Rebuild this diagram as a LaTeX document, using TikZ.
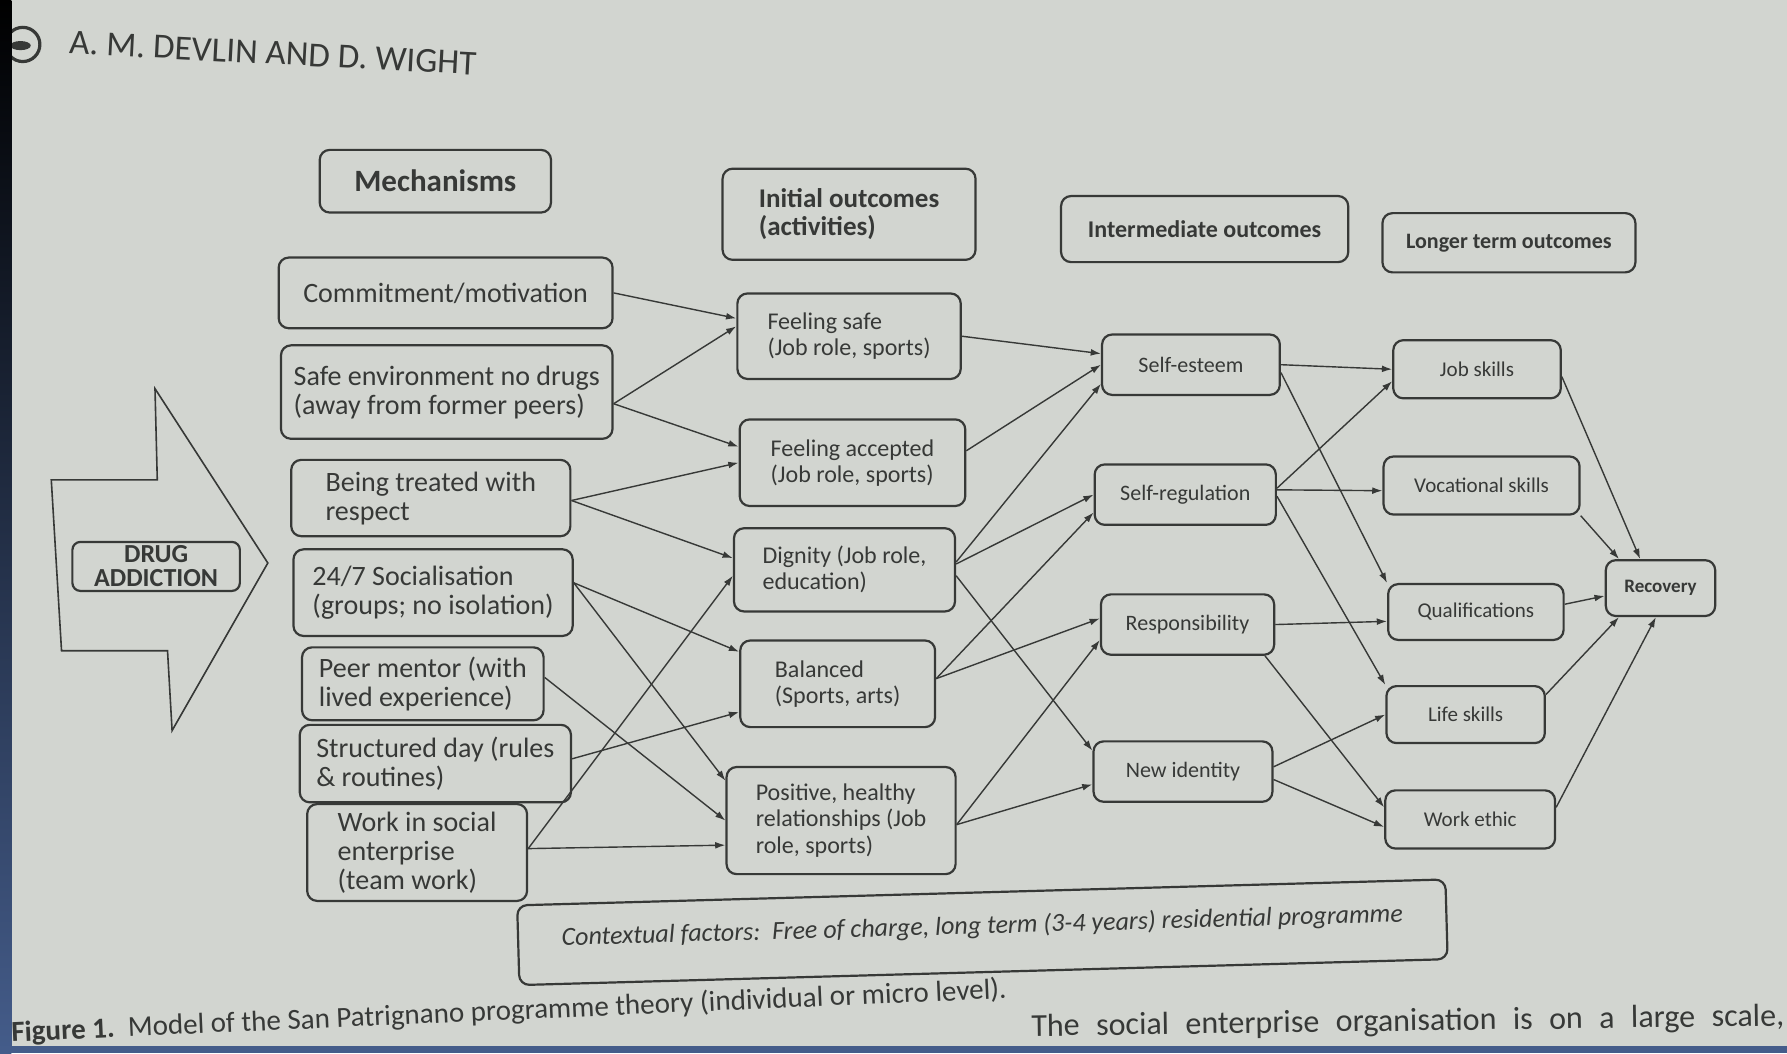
\documentclass[tikz,border=0pt]{standalone}
\usepackage{fontspec}
\setmainfont{Carlito}
\usetikzlibrary{arrows.meta}
\definecolor{pagegrey}{RGB}{210,213,208}
\definecolor{inkgrey}{RGB}{55,57,55}
\definecolor{bandblue}{RGB}{68,92,138}

\begin{document}
\begin{tikzpicture}[x=0.02cm,y=-0.02cm,
  rbox/.style={draw=inkgrey,line width=1.1pt,rounded corners=5pt,align=left,inner sep=2pt,text=inkgrey},
  mechbox/.style={rbox,font=\fontsize{14}{14.5}\selectfont},
  initbox/.style={rbox,font=\fontsize{12}{13}\selectfont},
  interbox/.style={rbox,font=\fontsize{11}{12}\selectfont,minimum height=1.06cm},
  longbox/.style={rbox,font=\fontsize{10.5}{12}\selectfont,minimum height=1.02cm},
  link/.style={draw=inkgrey,line width=0.7pt,-{Latex[length=1.8mm,width=1.2mm]}}]
  \useasboundingbox (0,0) rectangle (1568,924);
  \fill[pagegrey] (0,0) rectangle (1568,924);

  % running head
  \draw[inkgrey,line width=1.6pt] (20,39) circle [radius=15];
  \fill[inkgrey] (18,40) ellipse [x radius=9,y radius=4];
  \node[anchor=base west,rotate=-3,inner sep=0pt,text=inkgrey,font=\fontsize{17.5}{19}\selectfont] (author) at (60,47) {A. M. DEVLIN AND D. WIGHT};

  % column heads
  \node[rbox,font={\bfseries\fontsize{15.5}{16}\selectfont},minimum width=4.06cm,minimum height=1.10cm] (mech) at (382,159) {Mechanisms};
  \node[rbox,font={\bfseries\fontsize{13.5}{14}\selectfont},minimum width=4.44cm,minimum height=1.60cm] (init) at (745,188) {Initial outcomes\\(activities)};
  \node[rbox,font={\bfseries\fontsize{12}{13}\selectfont},minimum width=5.04cm,minimum height=1.16cm] (inter) at (1057,201) {Intermediate outcomes};
  \node[rbox,font={\bfseries\fontsize{11}{12}\selectfont},minimum width=4.44cm,minimum height=1.04cm] (longer) at (1324,213) {Longer term outcomes};

  % drug addiction arrow
  \draw[inkgrey,line width=0.8pt] (45,421) -- (138,421) -- (136,341) -- (235,494) -- (151,641) -- (147,571) -- (54,571) -- cycle;
  \node[rbox,align=center,inner sep=1pt,rounded corners=4pt,font={\bfseries\fontsize{13}{12}\selectfont},minimum width=2.94cm,minimum height=0.86cm] (drug) at (137,497) {DRUG\\ADDICTION};

  % mechanisms
  \node[mechbox,minimum width=5.86cm,minimum height=1.24cm] (commit) at (391,257) {Commitment/motivation};
  \node[mechbox,minimum width=5.82cm,minimum height=1.64cm] (safeenv) at (392,344) {Safe environment no drugs\\(away from former peers)};
  \node[mechbox,minimum width=4.90cm,minimum height=1.34cm] (respect) at (378,437) {Being treated with\\respect};
  \node[mechbox,minimum width=4.90cm,minimum height=1.52cm] (social) at (380,520) {24/7 Socialisation\\(groups; no isolation)};
  \node[mechbox,minimum width=4.24cm,minimum height=1.28cm] (peer) at (371,600) {Peer mentor (with\\lived experience)};
  \node[mechbox,minimum width=4.76cm,minimum height=1.36cm] (structured) at (382,670) {Structured day (rules\\\& routines)};
  \node[mechbox,minimum width=3.86cm,minimum height=1.70cm] (work) at (366,748) {Work in social\\enterprise\\(team work)};

  % initial outcomes
  \node[initbox,minimum width=3.92cm,minimum height=1.50cm] (safe) at (745,295) {Feeling safe\\(Job role, sports)};
  \node[initbox,minimum width=3.96cm,minimum height=1.52cm] (accepted) at (748,406) {Feeling accepted\\(Job role, sports)};
  \node[initbox,minimum width=3.88cm,minimum height=1.46cm] (dignity) at (741,500) {Dignity (Job role,\\education)};
  \node[initbox,minimum width=3.42cm,minimum height=1.52cm] (balanced) at (735,600) {Balanced\\(Sports, arts)};
  \node[initbox,minimum width=4.02cm,minimum height=1.88cm] (positive) at (738,720) {Positive, healthy\\relationships (Job\\role, sports)};

  % intermediate outcomes
  \node[interbox,minimum width=3.12cm] (esteem) at (1045,320) {Self-esteem};
  \node[interbox,minimum width=3.18cm] (regul) at (1040,434) {Self-regulation};
  \node[interbox,minimum width=3.04cm] (resp) at (1042,548) {Responsibility};
  \node[interbox,minimum width=3.14cm] (ident) at (1038,677) {New identity};

  % longer term outcomes
  \node[longbox,minimum width=2.94cm] (jobsk) at (1296,324) {Job skills};
  \node[longbox,minimum width=3.44cm] (vocsk) at (1300,426) {Vocational skills};
  \node[longbox,minimum width=3.08cm,minimum height=0.98cm] (qualif) at (1295,537) {Qualifications};
  \node[longbox,minimum width=2.78cm,minimum height=1.00cm] (lifesk) at (1286,627) {Life skills};
  \node[longbox,minimum width=2.98cm] (worketh) at (1290,719) {Work ethic};
  \node[rbox,font={\bfseries\fontsize{9.5}{11}\selectfont},minimum width=1.92cm,minimum height=0.98cm] (recov) at (1457,516) {Recovery};

  \draw[link] (commit.east) -- (safe.171);
  \draw[link] (safeenv.-4) -- (safe.175);
  \draw[link] (safeenv.-4) -- (accepted.172);
  \draw[link] (respect.-1) -- (accepted.west);
  \draw[link] (respect.-1) -- (dignity.174);
  \draw[link] (social.4) -- (balanced.162);
  \draw[link] (social.4) -- (positive.161);
  \draw[link] (peer.3) -- (positive.west);
  \draw[link] (structured.2) -- (balanced.196);
  \draw[link] (work.2) -- (dignity.183);
  \draw[link] (work.2) -- (positive.192);

  \draw[link] (safe.east) -- (esteem.173);
  \draw[link] (accepted.6) -- (esteem.west);
  \draw[link] (dignity.4) -- (esteem.192);
  \draw[link] (dignity.3) -- (regul.west);
  \draw[link] (dignity.-3) -- (ident.167);
  \draw[link] (balanced.3) -- (regul.191);
  \draw[link] (balanced.3) -- (resp.176);
  \draw[link] (positive.-2) -- (resp.190);
  \draw[link] (positive.-2) -- (ident.188);

  \draw[link] (esteem.east) -- (jobsk.west);
  \draw[link] (esteem.-5) -- (qualif.north west);
  \draw[link] (regul.4) -- (jobsk.188);
  \draw[link] (regul.3) -- (vocsk.183);
  \draw[link] (regul.-1) -- (lifesk.north west);
  \draw[link] (resp.east) -- (qualif.186);
  \draw[link] (resp.-22) -- (worketh.172);
  \draw[link] (ident.3) -- (lifesk.west);
  \draw[link] (ident.-5) -- (worketh.185);

  \draw[link] (jobsk.-5) -- (recov.125);
  \draw[link] (vocsk.south east) -- (recov.145);
  \draw[link] (qualif.5) -- (recov.188);
  \draw[link] (lifesk.14) -- (recov.215);
  \draw[link] (worketh.8) -- (recov.261);

  % context and caption
  \node[rbox,rotate=1.6,align=center,font={\itshape\fontsize{13}{14}\selectfont},minimum width=16.3cm,minimum height=1.40cm,text depth=8pt] (context) at (862,818) {Contextual factors:\ \ Free of charge, long term (3-4 years) residential programme};
  \node[anchor=base west,rotate=2.5,inner sep=0pt,text=inkgrey,font=\fontsize{14.5}{16}\selectfont] (caption) at (10,914) {\textbf{Figure 1.}\ \ Model of the San Patrignano programme theory (individual or micro level).};
  \node[anchor=base east,rotate=0.8,inner sep=0pt,text=inkgrey,font=\fontsize{16}{18}\selectfont] (bodytext) at (1566,900) {\makebox[376pt][s]{The social enterprise organisation is on a large scale,}};

  \shade[top color=black,bottom color=bandblue] (0,0) rectangle (10,924);
  \fill[bandblue] (0,918) rectangle (1568,924);
\end{tikzpicture}
\end{document}
